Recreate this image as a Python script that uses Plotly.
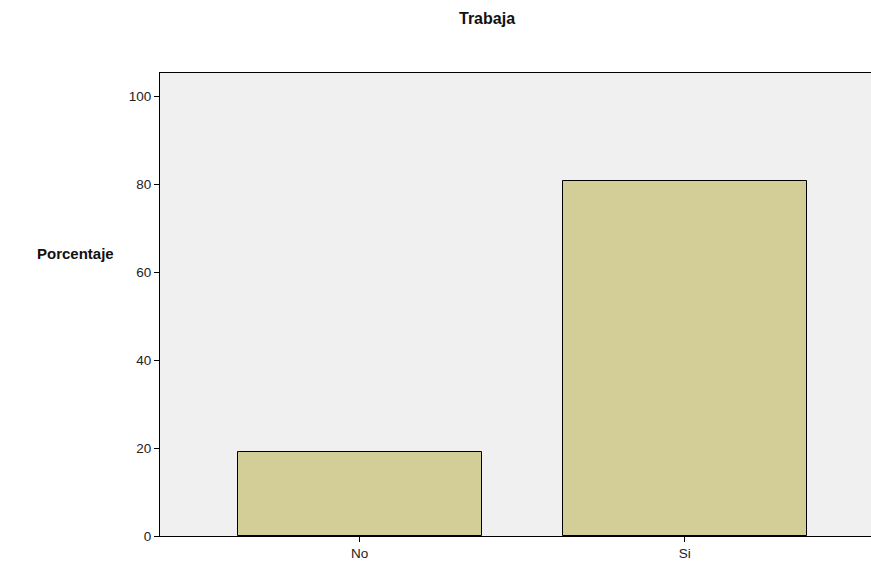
import plotly.graph_objects as go

categories = ["No", "Si"]
percentages = [19.2, 80.8]
y_ticks = [0, 20, 40, 60, 80, 100]

FIG_W, FIG_H = 871, 564
L, R, T, B = 160, 0, 73, 28

fig = go.Figure()
fig.add_trace(go.Bar(
    x=[0, 1], y=percentages, width=0.75,
    marker=dict(color="#D3CE98", line=dict(color="#000000", width=1)),
    hoverinfo="skip",
))

font_family = "Liberation Sans, Arial, sans-serif"
fig.update_layout(
    width=FIG_W, height=FIG_H,
    margin=dict(l=L, r=R, t=T, b=B),
    paper_bgcolor="white", plot_bgcolor="#F0F0F0",
    showlegend=False, bargap=0,
    font=dict(family=font_family, size=13.5, color="#222222"),
    xaxis=dict(
        range=[-0.614, 1.573], tickvals=[0, 1], ticktext=categories,
        showgrid=False, zeroline=False, showline=True, linecolor="#000000",
        linewidth=1, mirror=True, ticks="outside", ticklen=5, tickcolor="#000000",
        tickfont=dict(size=13.5, color="#222222"), fixedrange=True, automargin=False,
    ),
    yaxis=dict(
        range=[0, 105.3], tickvals=y_ticks,
        showgrid=False, zeroline=False, showline=True, linecolor="#000000",
        linewidth=1, ticks="outside", ticklen=5, tickcolor="#000000",
        tickfont=dict(size=13.5, color="#222222"), fixedrange=True, automargin=False,
    ),
)

plot_w = FIG_W - L - R
plot_h = FIG_H - T - B

def px_to_paper(px, py):
    return (px - L) / plot_w, (FIG_H - py - B) / plot_h

tx, ty = px_to_paper(487, 19)
yx, yy = px_to_paper(75, 254)
fig.add_annotation(text="<b>Trabaja</b>", x=tx, y=ty, xref="paper", yref="paper",
                   xanchor="center", yanchor="middle",
                   showarrow=False, font=dict(size=16, color="#111111"))
fig.add_annotation(text="<b>Porcentaje</b>", x=yx, y=yy, xref="paper", yref="paper",
                   xanchor="center", yanchor="middle",
                   showarrow=False, font=dict(size=15, color="#111111"))

fig.write_html(
    "out.html",
    config={"displayModeBar": False},
    post_script="document.body.style.margin='0';document.body.style.overflow='hidden';",
)
